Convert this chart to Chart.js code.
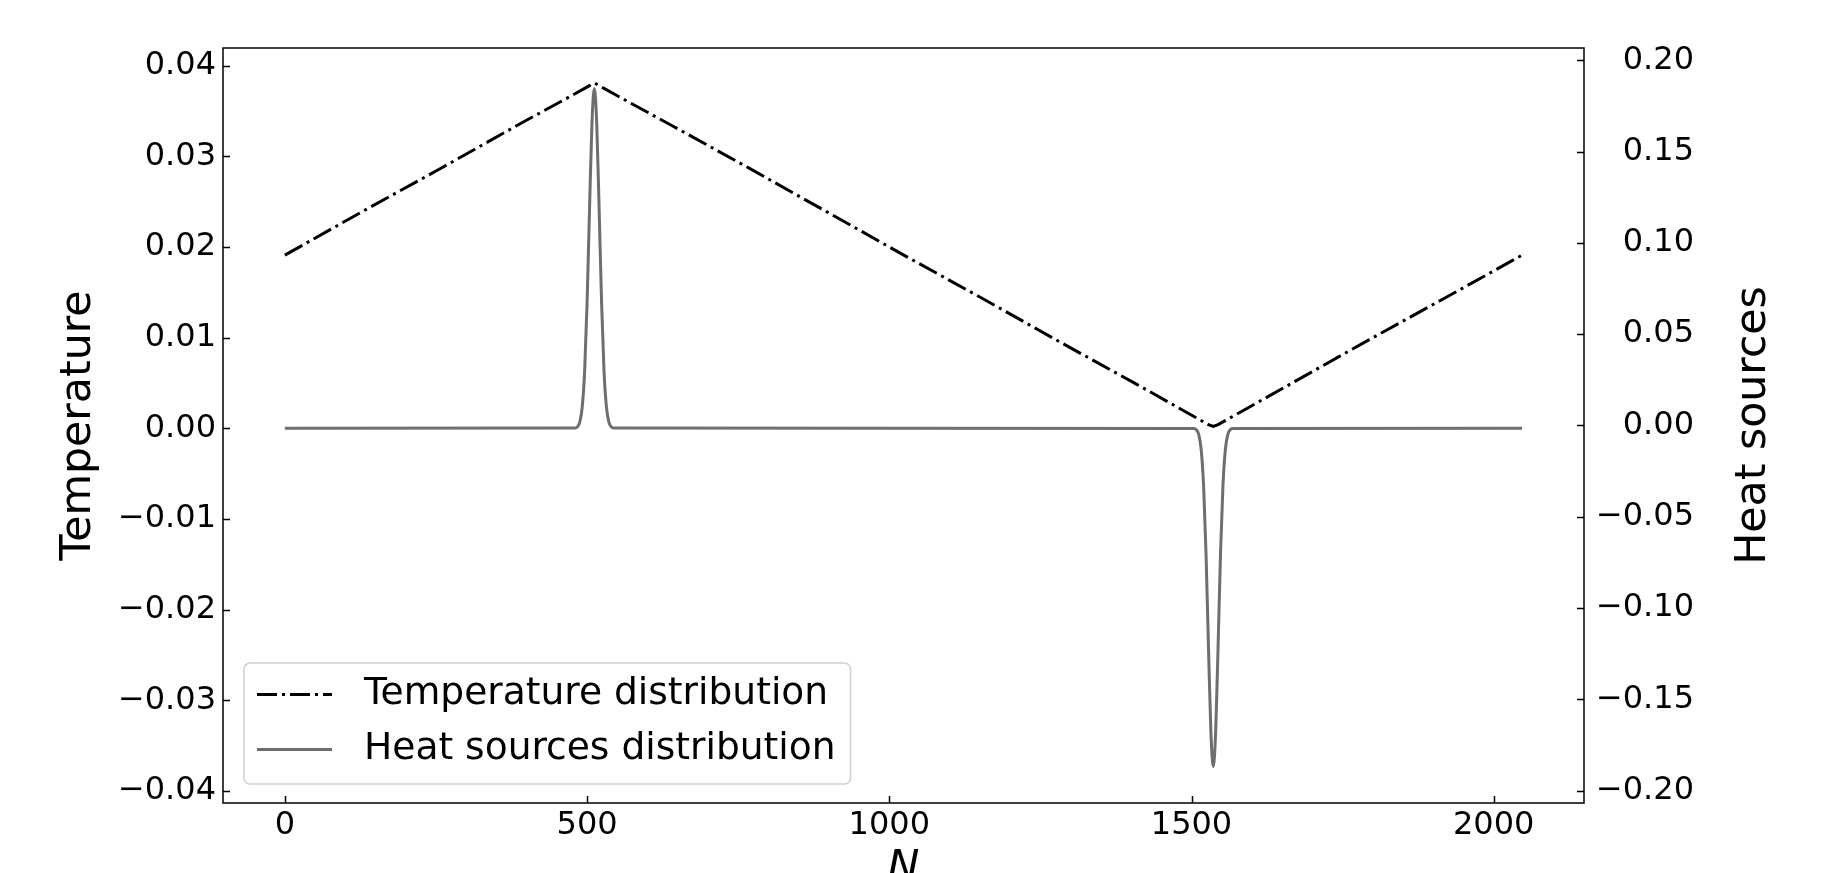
<!DOCTYPE html>
<html>
<head>
<meta charset="utf-8">
<script src="https://cdn.jsdelivr.net/npm/chart.js@4.4.1/dist/chart.umd.min.js"></script>
<style>
  html, body { margin: 0; padding: 0; background: #fff; overflow: hidden; }
</style>
</head>
<body>
<canvas id="chart" width="1833" height="900"></canvas>
<script>
// temperature distribution (left axis)
let tempX = [0, 128, 256, 384, 480, 496, 504, 512, 520, 528, 544, 640, 768, 896, 1024,
  1152, 1280, 1408, 1504, 1520, 1528, 1536, 1544, 1552, 1568, 1664, 1792, 1920, 2047];
let tempY = [0.0191, 0.0239, 0.0286, 0.0334, 0.0369, 0.0375, 0.0378, 0.0381, 0.0378, 0.0375, 0.0369,
  0.0334, 0.0287, 0.0239, 0.0191, 0.0144, 0.0096, 0.0049, 0.0013, 0.0007, 0.0004, 0.0002,
  0.0004, 0.0007, 0.0013, 0.0049, 0.0097, 0.0144, 0.0191];

// heat sources distribution (right axis)
let heatX = [0, 480, 484, 488, 492, 496, 500, 504, 508, 512, 516, 520, 524, 528, 532, 536, 540, 544,
  1504, 1508, 1512, 1516, 1520, 1524, 1528, 1532, 1536, 1540, 1544, 1548, 1552, 1556, 1560, 1564, 1568, 2047];
let heatY = [-0.0016, -0.0014, -0.0008, 0.0019, 0.0101, 0.0300, 0.0671, 0.1179, 0.1650, 0.1845,
  0.1650, 0.1179, 0.0671, 0.0300, 0.0101, 0.0019, -0.0008, -0.0014,
  -0.0017, -0.0024, -0.0050, -0.0132, -0.0331, -0.0700, -0.1206, -0.1674, -0.1869,
  -0.1674, -0.1206, -0.0700, -0.0331, -0.0132, -0.0050, -0.0024, -0.0017, -0.0016];

// ticks and axis limits
let xTicks = [0, 500, 1000, 1500, 2000];
let tempTicks = [-0.04, -0.03, -0.02, -0.01, 0, 0.01, 0.02, 0.03, 0.04];
let heatTicks = [-0.2, -0.15, -0.1, -0.05, 0, 0.05, 0.1, 0.15, 0.2];
let xLimits = [-102.35, 2149.35];
let tempLimits = [-0.04134, 0.04195];
let heatLimits = [-0.2068, 0.2067];

const FONT = "'DejaVu Sans', sans-serif";

function fmt(v) {
  let s = Math.abs(v) < 1e-9 ? "0.00" : v.toFixed(2);
  return s.replace("-", "\u2212");
}

// inward ticks, frame, right title and legend box (matplotlib look)
const decor = {
  id: "decor",
  afterDraw(chart) {
    const ctx = chart.ctx;
    const a = chart.chartArea;
    const sx = chart.scales.x, sy = chart.scales.y, sy1 = chart.scales.y1;
    ctx.save();
    ctx.strokeStyle = "#000";
    ctx.lineWidth = 1.5;
    ctx.setLineDash([]);
    ctx.beginPath();
    sx.ticks.forEach((t) => {
      let px = Math.round(sx.getPixelForValue(t.value)) + 0.5;
      ctx.moveTo(px, a.bottom);
      ctx.lineTo(px, a.bottom - 7);
    });
    sy.ticks.forEach((t) => {
      let py = Math.round(sy.getPixelForValue(t.value)) + 0.5;
      ctx.moveTo(a.left, py);
      ctx.lineTo(a.left + 7, py);
    });
    sy1.ticks.forEach((t) => {
      let py = Math.round(sy1.getPixelForValue(t.value)) + 0.5;
      ctx.moveTo(a.right, py);
      ctx.lineTo(a.right - 7, py);
    });
    ctx.stroke();
    ctx.strokeRect(a.left, a.top, a.right - a.left, a.bottom - a.top);

    // right axis title reads bottom to top like the left one
    ctx.save();
    ctx.translate(a.right + 170, (a.top + a.bottom) / 2);
    ctx.rotate(-Math.PI / 2);
    ctx.fillStyle = "#000";
    ctx.font = "42.67px " + FONT;
    ctx.textAlign = "center";
    ctx.textBaseline = "middle";
    ctx.fillText("Heat sources", 0, 0);
    ctx.restore();

    // legend, lower left
    let sets = chart.data.datasets;
    ctx.font = "37.6px " + FONT;
    let maxW = 0;
    sets.forEach((d) => { maxW = Math.max(maxW, ctx.measureText(d.label).width); });
    let bx = a.left + 21, by = a.bottom - 140;
    let bw = 120 + maxW + 15, bh = 121;
    ctx.beginPath();
    ctx.roundRect(bx, by, bw, bh, 6);
    ctx.fillStyle = "rgba(255,255,255,0.8)";
    ctx.fill();
    ctx.strokeStyle = "#d0d0d0";
    ctx.lineWidth = 1.5;
    ctx.stroke();
    sets.forEach((d, i) => {
      let ry = by + 31.5 + i * 55;
      ctx.beginPath();
      ctx.setLineDash(d.borderDash || []);
      ctx.strokeStyle = d.borderColor;
      ctx.lineWidth = d.borderWidth;
      ctx.moveTo(bx + 13, ry);
      ctx.lineTo(bx + 88, ry);
      ctx.stroke();
      ctx.setLineDash([]);
      ctx.fillStyle = "#000";
      ctx.textAlign = "left";
      ctx.textBaseline = "middle";
      ctx.fillText(d.label, bx + 120, ry);
    });
    ctx.restore();
  },
};

let chart = new Chart(document.getElementById("chart"), {
  type: "line",
  data: {
    datasets: [
      {
        label: "Temperature distribution",
        data: tempX.map((x, i) => ({ x: x, y: tempY[i] })),
        yAxisID: "y",
        borderColor: "#000000",
        borderWidth: 3,
        borderDash: [20, 5, 3, 5],
        borderCapStyle: "butt",
        tension: 0,
        order: 2,
      },
      {
        label: "Heat sources distribution",
        data: heatX.map((x, i) => ({ x: x, y: heatY[i] })),
        yAxisID: "y1",
        borderColor: "#6e6e6e",
        borderWidth: 3,
        cubicInterpolationMode: "monotone",
        order: 1,
      },
    ],
  },
  options: {
    responsive: false,
    animation: false,
    layout: { padding: { top: 48, left: 0, right: 139, bottom: 0 } },
    elements: { point: { radius: 0 } },
    plugins: { legend: { display: false }, tooltip: { enabled: false } },
    scales: {
      x: {
        type: "linear",
        min: xLimits[0],
        max: xLimits[1],
        grid: { display: false, drawTicks: false },
        border: { display: false },
        afterBuildTicks: (s) => { s.ticks = xTicks.map((v) => ({ value: v })); },
        ticks: {
          color: "#000",
          font: { family: FONT, size: 32 },
          padding: 3,
          maxRotation: 0,
          autoSkip: false,
          callback: (v) => String(v),
        },
        title: {
          display: true,
          text: "N",
          color: "#000",
          font: { family: FONT, size: 42.67, style: "italic" },
          padding: { top: 0, bottom: 5 },
        },
        afterFit: (s) => { s.height = 97; },
      },
      y: {
        position: "left",
        min: tempLimits[0],
        max: tempLimits[1],
        grid: { display: false, drawTicks: false },
        border: { display: false },
        afterBuildTicks: (s) => { s.ticks = tempTicks.map((v) => ({ value: v })); },
        ticks: {
          color: "#000",
          font: { family: FONT, size: 32 },
          padding: 7,
          autoSkip: false,
          callback: (v) => fmt(v),
        },
        title: {
          display: true,
          text: "Temperature",
          color: "#000",
          font: { family: FONT, size: 42.67 },
          padding: { top: 53, bottom: 0 },
        },
        afterFit: (s) => { s.width = 223; },
      },
      y1: {
        position: "right",
        min: heatLimits[0],
        max: heatLimits[1],
        grid: { display: false, drawTicks: false },
        border: { display: false },
        afterBuildTicks: (s) => { s.ticks = heatTicks.map((v) => ({ value: v })); },
        ticks: {
          color: "#000",
          font: { family: FONT, size: 32 },
          padding: 12,
          crossAlign: "far",
          autoSkip: false,
          callback: (v) => fmt(v),
        },
        afterFit: (s) => { s.width = 110; },
      },
    },
  },
  plugins: [decor],
});
</script>
</body>
</html>
